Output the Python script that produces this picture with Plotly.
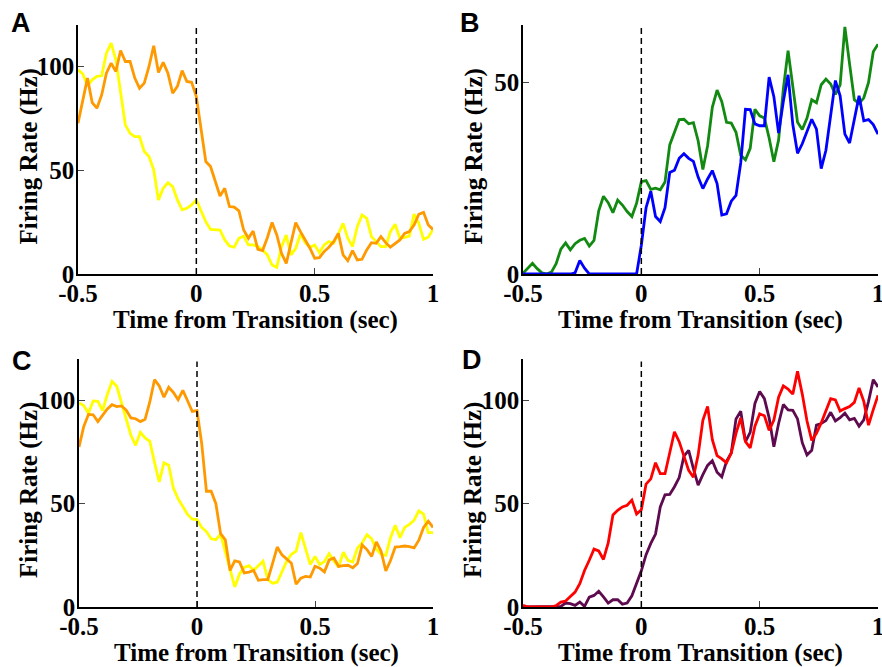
import plotly.graph_objects as go

# time bins (sec)
t = [round(-0.5 + 0.02 * i, 2) for i in range(76)]

# Panel A
a_orange = [72.7, 83.1, 94.4, 82.6, 79.9, 86.3, 96.8, 101.6, 97.6, 107.7, 102.4, 102.4, 94.4, 89.5, 92.0, 100.0,
            110.0, 97.1, 102.0, 96.8, 87.1, 90.4, 98.0, 92.8, 92.4, 85.5, 69.8, 54.2, 51.8, 44.5, 37.6, 41.3,
            32.5, 32.2, 30.4, 21.2, 17.2, 20.7, 11.9, 11.3, 17.5, 24.8, 18.8, 10.0, 5.1, 15.0, 24.8, 20.4,
            16.4, 12.4, 7.6, 7.9, 10.8, 12.9, 15.6, 19.6, 9.2, 6.4, 11.3, 6.8, 7.1, 11.6, 15.1, 14.8,
            18.0, 15.1, 12.9, 14.8, 16.4, 19.6, 20.4, 23.6, 28.8, 29.7, 23.6, 21.5]
a_yellow = [98.4, 96.5, 90.7, 93.6, 95.2, 95.5, 106.4, 111.3, 103.2, 88.0, 71.9, 67.8, 66.2, 66.2, 59.0, 56.6,
            50.2, 35.7, 41.3, 44.0, 42.1, 35.7, 30.9, 31.7, 33.3, 35.7, 30.0, 25.2, 21.5, 21.2, 21.2, 16.4,
            13.5, 12.9, 17.2, 18.3, 14.0, 14.0, 13.2, 11.6, 9.2, 4.3, 3.2, 13.2, 18.8, 9.2, 12.4, 19.3,
            15.1, 12.9, 14.0, 10.3, 14.0, 15.6, 14.8, 19.3, 24.4, 17.2, 13.2, 22.8, 28.5, 26.8, 18.0, 15.6,
            13.2, 13.2, 20.4, 24.0, 17.2, 17.7, 18.3, 28.9, 24.4, 16.7, 17.7, 21.5]

# Panel B
b_green = [0.2, 1.5, 2.8, 1.4, 0.3, 0.0, 0.5, 2.7, 6.5, 8.1, 6.3, 7.9, 8.8, 9.3, 7.3, 8.8,
           16.5, 20.3, 18.6, 16.0, 19.3, 18.0, 16.3, 15.0, 18.5, 24.1, 24.4, 22.1, 22.4, 22.0, 24.0, 33.7,
           36.8, 40.3, 40.4, 39.2, 39.5, 34.8, 27.3, 33.5, 43.5, 48.0, 45.0, 39.6, 39.4, 37.0, 31.0, 29.8,
           32.8, 43.0, 41.3, 40.7, 35.5, 29.3, 35.0, 48.3, 58.3, 49.3, 39.6, 37.7, 40.7, 45.5, 44.7, 49.4,
           50.9, 49.6, 46.9, 49.4, 64.5, 54.8, 45.5, 44.5, 46.0, 50.0, 58.0, 60.0]
b_blue = [0, 0, 0, 0, 0, 0, 0, 0, 0, 0, 0, 0.3, 3.5, 1.5, 0, 0,
          0, 0, 0, 0, 0, 0, 0, 0, 0, 7.5, 17.3, 21.6, 15.0, 13.7, 17.3, 26.5,
          27.1, 30.2, 31.4, 30.2, 29.4, 25.3, 22.3, 24.8, 27.0, 23.6, 15.4, 15.7, 19.0, 20.5, 29.0, 43.0,
          42.9, 39.2, 38.7, 38.7, 51.4, 46.3, 36.8, 45.0, 52.0, 39.0, 31.5, 34.0, 37.3, 40.4, 37.8, 27.5,
          32.3, 41.0, 50.5, 46.5, 36.5, 34.2, 40.0, 46.5, 40.0, 40.3, 39.0, 36.5]

# Panel C
c_orange = [77.4, 87.3, 93.2, 93.0, 89.7, 92.8, 95.8, 97.9, 97.0, 97.3, 95.3, 91.5, 91.1, 89.7, 90.8, 99.2,
            110.0, 107.0, 101.5, 106.3, 103.8, 100.3, 104.8, 99.8, 94.6, 95.0, 79.0, 56.0, 56.0, 50.0, 35.5, 32.5,
            17.7, 22.3, 21.8, 16.5, 16.9, 17.7, 12.9, 13.2, 13.2, 21.0, 29.0, 25.2, 23.1, 21.2, 11.0, 14.0,
            14.8, 14.5, 19.7, 18.8, 17.0, 22.8, 23.7, 19.6, 20.0, 20.2, 19.0, 21.0, 30.0, 27.8, 24.5, 31.5,
            27.0, 17.5, 22.5, 29.0, 29.2, 29.5, 29.2, 28.6, 32.3, 38.5, 41.5, 38.5]
c_yellow = [98.7, 97.5, 93.8, 99.7, 99.5, 95.0, 102.8, 109.2, 106.8, 99.0, 90.0, 83.1, 78.2, 84.5, 81.8, 80.2,
            70.0, 60.5, 69.8, 68.6, 57.5, 52.3, 48.6, 44.8, 42.5, 42.3, 38.5, 36.5, 33.0, 32.6, 35.3, 26.5,
            18.5, 9.7, 16.0, 19.2, 20.0, 17.8, 20.0, 22.2, 13.3, 11.5, 12.0, 17.0, 22.2, 25.5, 27.0, 36.0,
            28.0, 20.5, 24.5, 20.5, 22.0, 25.8, 22.3, 19.3, 26.5, 22.5, 21.8, 28.5, 31.0, 35.0, 33.0, 28.0,
            25.5, 25.0, 33.5, 39.5, 33.5, 38.5, 40.0, 42.0, 46.5, 45.0, 36.0, 36.0]

# Panel D
d_red = [0.8, 0, 0, 0, 0, 0, 0, 0.7, 2.4, 2.9, 5.2, 7.2, 11.3, 17.7, 22.6, 28.0,
         27.1, 23.0, 31.0, 44.5, 46.8, 48.4, 49.2, 51.7, 45.0, 47.0, 59.5, 62.0, 69.8, 64.5, 64.5, 73.9,
         84.8, 80.0, 73.0, 66.1, 62.8, 73.5, 90.3, 97.1, 81.0, 73.2, 71.7, 69.8, 74.5, 84.0, 91.5, 80.0,
         77.0, 87.5, 93.5, 92.5, 85.5, 90.5, 101.5, 107.0, 105.5, 103.0, 114.0, 103.0, 90.0, 80.6, 84.0, 89.0,
         95.0, 100.8, 100.2, 94.8, 96.0, 97.0, 99.0, 106.0, 99.5, 88.0, 95.5, 102.4]
d_purple = [0, 0, 0, 0, 0, 0, 0, 0, 0.3, 1.9, 1.6, 0.8, 2.4, 0.3, 4.8, 5.6,
            7.6, 4.9, 1.9, 3.5, 3.5, 1.4, 1.9, 5.4, 11.0, 17.5, 25.3, 30.8, 35.3, 48.4, 54.3, 54.5,
            58.2, 62.6, 73.0, 75.8, 67.0, 59.0, 64.0, 68.5, 70.8, 65.2, 63.0, 70.5, 74.5, 91.0, 94.7, 80.0,
            84.5, 98.5, 104.3, 100.8, 91.5, 77.5, 88.8, 98.0, 95.4, 95.2, 91.0, 79.5, 73.5, 75.8, 88.0, 88.8,
            90.2, 94.2, 90.0, 91.6, 93.8, 90.6, 91.3, 87.5, 90.5, 99.5, 110.0, 106.5]

x_ticks = [-0.5, 0, 0.5, 1]
x_ticklabels = ["-0.5", "0", "0.5", "1"]
panel_letters = ["A", "B", "C", "D"]
x_title = "Time from Transition (sec)"
y_title = "Firing Rate (Hz)"
y_ranges = [[0, 120], [0, 65], [0, 120], [0, 120]]
y_ticks = [[0, 50, 100], [0, 50], [0, 50, 100], [0, 50, 100]]

ORANGE = "#FF9900"
YELLOW = "#FFFF00"
GREEN = "#128A12"
BLUE = "#0000FF"
RED = "#FF0000"
PURPLE = "#5E0A4E"

W, H = 882, 667
# plot-area pixel boxes (left, right, top, bottom)
boxes = [(78, 433, 25, 274), (523, 878, 25, 274), (79, 433, 359, 607), (523, 878, 359, 607)]
letter_pos = [(21, 23), (470, 23), (22, 361), (472, 360)]

series = [
    [(a_yellow, YELLOW), (a_orange, ORANGE)],
    [(b_green, GREEN), (b_blue, BLUE)],
    [(c_yellow, YELLOW), (c_orange, ORANGE)],
    [(d_purple, PURPLE), (d_red, RED)],
]

fig = go.Figure()
tickfont = dict(family="Liberation Serif", size=25, color="black", weight="bold")
titlefont = dict(family="Liberation Serif", size=25, color="black", weight="bold")

layout = dict(
    width=W, height=H, margin=dict(l=0, r=0, t=0, b=0),
    paper_bgcolor="white", plot_bgcolor="white", showlegend=False,
)
shapes = []
annotations = []
for k in range(4):
    n = "" if k == 0 else str(k + 1)
    l, r, tp, bt = boxes[k]
    for vals, col in series[k]:
        fig.add_trace(go.Scatter(x=t, y=vals, mode="lines", line=dict(color=col, width=2.8),
                                 xaxis="x" + n, yaxis="y" + n, hoverinfo="skip"))
    layout["xaxis" + n] = dict(
        domain=[l / W, r / W], anchor="y" + n, range=[-0.5, 1], showgrid=False, zeroline=False,
        showline=True, linecolor="black", linewidth=1.5, ticks="inside", ticklen=6, tickwidth=1.2,
        tickcolor="#444", tickvals=x_ticks, ticktext=x_ticklabels, tickfont=tickfont,
        automargin=False, ticklabeloverflow="allow", ticklabelstandoff=-4,
    )
    layout["yaxis" + n] = dict(
        domain=[1 - bt / H, 1 - tp / H], anchor="x" + n, range=y_ranges[k], showgrid=False,
        zeroline=False, showline=True, linecolor="black", linewidth=1.5, ticks="inside", ticklen=6,
        tickwidth=1.2, tickcolor="#444", tickvals=y_ticks[k], tickfont=tickfont,
        automargin=False, ticklabeloverflow="allow", ticklabelstandoff=-3,
    )
    shapes.append(dict(type="line", xref="x" + n, yref="y" + n + " domain", x0=0, x1=0, y0=0, y1=0.99,
                       line=dict(color="black", width=1.5, dash="6px,4px")))
    lx, ly = letter_pos[k]
    annotations.append(dict(text=panel_letters[k], x=lx / W, y=1 - ly / H,
                            xref="paper", yref="paper", xanchor="center", yanchor="middle", showarrow=False,
                            font=dict(family="Liberation Sans", size=27, color="black", weight="bold")))
    # x-axis title
    annotations.append(dict(text=x_title, x=(l + r) / 2 / W, y=1 - (bt + 46) / H,
                            xref="paper", yref="paper", xanchor="center", yanchor="middle",
                            showarrow=False, font=titlefont))
    # y-axis title
    annotations.append(dict(text=y_title, x=(l - 50) / W, y=1 - ((tp + bt) / 2 + 7) / H,
                            xref="paper", yref="paper", xanchor="center", yanchor="middle",
                            textangle=-90, showarrow=False, font=titlefont))

layout["shapes"] = shapes
layout["annotations"] = annotations
fig.update_layout(**layout)
fig.write_html("out.html")
